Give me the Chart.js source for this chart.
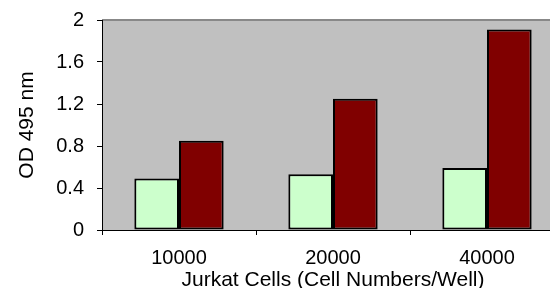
<!DOCTYPE html>
<html lang="en">
<head>
    <meta charset="UTF-8">
    <title>OD 495 nm vs Jurkat Cells</title>
    <script src="https://cdn.jsdelivr.net/npm/chart.js@4.4.1/dist/chart.umd.min.js"></script>
    <style>
        body {
            margin: 0;
            background: #ffffff;
            overflow: hidden;
        }
        /* plot area runs past the right edge in the original, so the box is bigger than the window */
        .chart-box {
            position: relative;
            width: 570px;
            height: 290px;
        }
    </style>
</head>
<body>
    <div class="chart-box"><canvas id="odChart"></canvas></div>

    <script>
        // Data
        const categories = ['10000', '20000', '40000'];
        const seriesLight = [0.49, 0.53, 0.59];
        const seriesDark = [0.85, 1.25, 1.91];
        const yTickLabels = ['0', '0.4', '0.8', '1.2', '1.6', '2'];

        const fontFamily = 'Liberation Sans, Arial, sans-serif';

        // gray plot background + top border, like the spreadsheet chart
        const plotBackground = {
            id: 'plotBackground',
            beforeDraw(chart) {
                const { ctx, chartArea: a } = chart;
                ctx.save();
                ctx.fillStyle = '#c0c0c0';
                ctx.fillRect(a.left, a.top, a.right - a.left, a.bottom - a.top);
                ctx.strokeStyle = '#888888';
                ctx.lineWidth = 2;
                ctx.beginPath();
                ctx.moveTo(a.left, a.top);
                ctx.lineTo(a.right, a.top);
                ctx.lineTo(a.right, a.bottom);
                ctx.stroke();
                ctx.restore();
            }
        };

        const ctx = document.getElementById('odChart').getContext('2d');

        new Chart(ctx, {
            type: 'bar',
            data: {
                labels: categories,
                datasets: [{
                    label: 'Series 1',
                    data: seriesLight,
                    backgroundColor: '#ccffcc',
                    borderColor: '#000000',
                    borderWidth: 2,
                    borderSkipped: false,
                    barPercentage: 1,
                    categoryPercentage: 0.58
                }, {
                    label: 'Series 2',
                    data: seriesDark,
                    backgroundColor: '#800000',
                    borderColor: '#000000',
                    borderWidth: 2,
                    borderSkipped: false,
                    barPercentage: 1,
                    categoryPercentage: 0.58
                }]
            },
            options: {
                responsive: true,
                maintainAspectRatio: false,
                animation: false,
                layout: { padding: { top: 20, right: 6, left: 0, bottom: 0 } },
                plugins: {
                    legend: { display: false },
                    tooltip: { enabled: false }
                },
                scales: {
                    x: {
                        grid: {
                            offset: true,
                            drawOnChartArea: false,
                            drawTicks: true,
                            tickLength: 5,
                            color: '#000000'
                        },
                        border: { display: true, color: '#000000', width: 1 },
                        ticks: {
                            color: '#000000',
                            padding: 11,
                            maxRotation: 0,
                            font: { family: fontFamily, size: 20 }
                        },
                        title: {
                            display: true,
                            text: 'Jurkat Cells (Cell Numbers/Well)',
                            color: '#000000',
                            padding: { top: 0, bottom: -1 },
                            font: { family: fontFamily, size: 21, lineHeight: 1 }
                        },
                        afterFit(scale) {
                            scale.height = 60;
                            scale.paddingLeft = 0;
                            scale.paddingRight = 0;
                        }
                    },
                    y: {
                        min: 0,
                        max: 2,
                        ticks: {
                            stepSize: 0.4,
                            color: '#000000',
                            padding: 13,
                            font: { family: fontFamily, size: 20 },
                            callback: (v, i) => yTickLabels[i]
                        },
                        grid: {
                            drawOnChartArea: false,
                            drawTicks: true,
                            tickLength: 5,
                            color: '#000000'
                        },
                        border: { display: true, color: '#000000', width: 1 },
                        title: {
                            display: true,
                            text: 'OD 495 nm',
                            color: '#000000',
                            padding: { top: 15, bottom: 0 },
                            font: { family: fontFamily, size: 21, lineHeight: 1.2 }
                        },
                        afterFit(scale) {
                            scale.width = 102;
                            scale.paddingTop = 0;
                            scale.paddingBottom = 0;
                        }
                    }
                }
            },
            plugins: [plotBackground]
        });
    </script>
</body>
</html>
